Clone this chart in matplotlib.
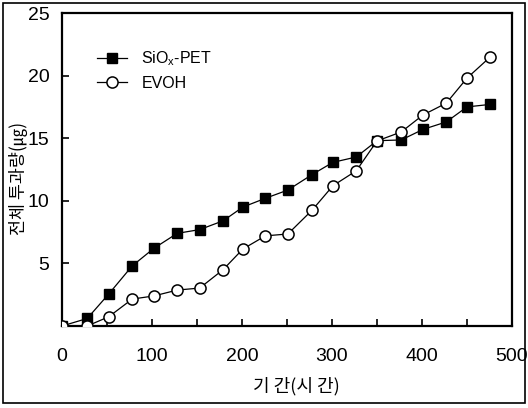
import matplotlib
matplotlib.use('Agg')
import matplotlib.pyplot as plt
from matplotlib.patches import Rectangle

plt.rcParams['font.family'] = ['Liberation Sans', 'Noto Sans CJK KR']
plt.rcParams['mathtext.fontset'] = 'custom'
plt.rcParams['mathtext.rm'] = 'Liberation Sans'

# time (hours) and cumulative permeation (ug)
hours = [0, 28, 52, 78, 102, 128, 153, 179, 201, 226, 251, 278, 301, 327, 350, 377, 401, 427, 450, 476]
siox_pet = [0, 0.6, 2.56, 4.8, 6.2, 7.4, 7.7, 8.4, 9.5, 10.2, 10.86, 12.1, 13.07, 13.5, 14.8, 14.86, 15.7, 16.3, 17.5, 17.7]
evoh = [0, 0, 0.74, 2.15, 2.4, 2.87, 3.03, 4.5, 6.15, 7.2, 7.35, 9.26, 11.2, 12.4, 14.78, 15.5, 16.85, 17.8, 19.8, 21.5]

xticks = [0, 100, 200, 300, 400, 500]
yticks = [5, 10, 15, 20, 25]

fig = plt.figure(figsize=(5.28, 4.08), dpi=100)
ax = fig.add_axes([62/528, 1-326/408, 450/528, 313/408])

ax.plot(hours, siox_pet, color='black', lw=0.9, marker='s', ms=6.5,
        mfc='black', mec='black', label='SiO$_\\mathregular{x}$-PET', zorder=3)
ax.plot(hours, evoh, color='black', lw=0.9, marker='o', ms=8,
        mfc='white', mec='black', mew=1.1, label='EVOH', zorder=4)

ax.set_xlim(0, 500)
ax.set_ylim(0, 25)
ax.set_xticks(xticks)
ax.set_xticks(range(0, 501, 50), minor=True)
ax.set_yticks(yticks)
ax.tick_params(axis='both', which='both', direction='in', labelsize=14, width=1.2)
ax.tick_params(axis='both', which='major', length=5)
ax.tick_params(axis='x', which='minor', length=5)
ax.tick_params(axis='x', pad=16)
ax.tick_params(axis='y', pad=9)
for s in ax.spines.values():
    s.set_linewidth(1.6)

ax.set_xlabel('기 간(시 간)', fontsize=13, family=['Noto Sans CJK KR'])
ax.set_ylabel('전체 투과량(㎍)', fontsize=12.5, family=['Noto Sans CJK KR'])
ax.xaxis.set_label_coords(0.52, -0.163)
ax.yaxis.set_label_coords(-0.076, 0.473)

ax.legend(loc='upper left', bbox_to_anchor=(0.045, 0.93), frameon=False,
          fontsize=11.5, handlelength=1.9, handletextpad=0.9, labelspacing=0.5)

fig.patches.append(Rectangle((3/528, 5/408), 522/528, 400/408, transform=fig.transFigure,
                             fill=False, edgecolor='black', lw=1.2))

fig.savefig('out.png', dpi=100)
